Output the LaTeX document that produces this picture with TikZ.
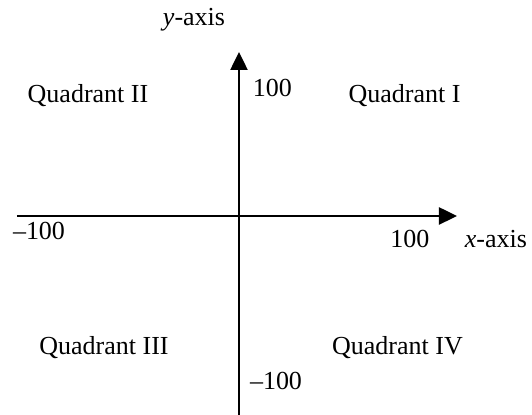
\documentclass[tikz,border=0pt]{standalone}
\usepackage{fontspec}
\setmainfont{Liberation Serif}
\usetikzlibrary{arrows.meta}
\tikzset{
  lbl/.style={anchor=base, inner sep=0pt, font=\fontsize{13}{15}\selectfont},
  axis/.style={line width=1.25pt, -{Triangle[length=9pt,width=8.5pt]}}
}
\begin{document}
\begin{tikzpicture}[x=0.5pt,y=-0.5pt]
\useasboundingbox (0,0) rectangle (532,415);
% axes
\coordinate (xl) at (17,216);
\coordinate (xr) at (457,216);
\coordinate (yb) at (239,415);
\coordinate (yt) at (239,52);
\draw[axis] (xl) -- (xr);
\draw[axis] (yb) -- (yt);
% labels
\node[lbl] (ylab) at (194,26) {\textit{y}-axis};
\node[lbl] (xlab) at (496,248) {\textit{x}-axis};
\node[lbl] (q1) at (404.5,103) {Quadrant I};
\node[lbl] (q2) at (88,103) {Quadrant II};
\node[lbl] (q3) at (104,355) {Quadrant III};
\node[lbl] (q4) at (397.5,355) {Quadrant IV};
\node[lbl] (ytop) at (272.5,97) {100};
\node[lbl] (ybot) at (276,390) {–100};
\node[lbl] (xright) at (410,248) {100};
\node[lbl] (xleft) at (39,240) {–100};
\end{tikzpicture}
\end{document}
